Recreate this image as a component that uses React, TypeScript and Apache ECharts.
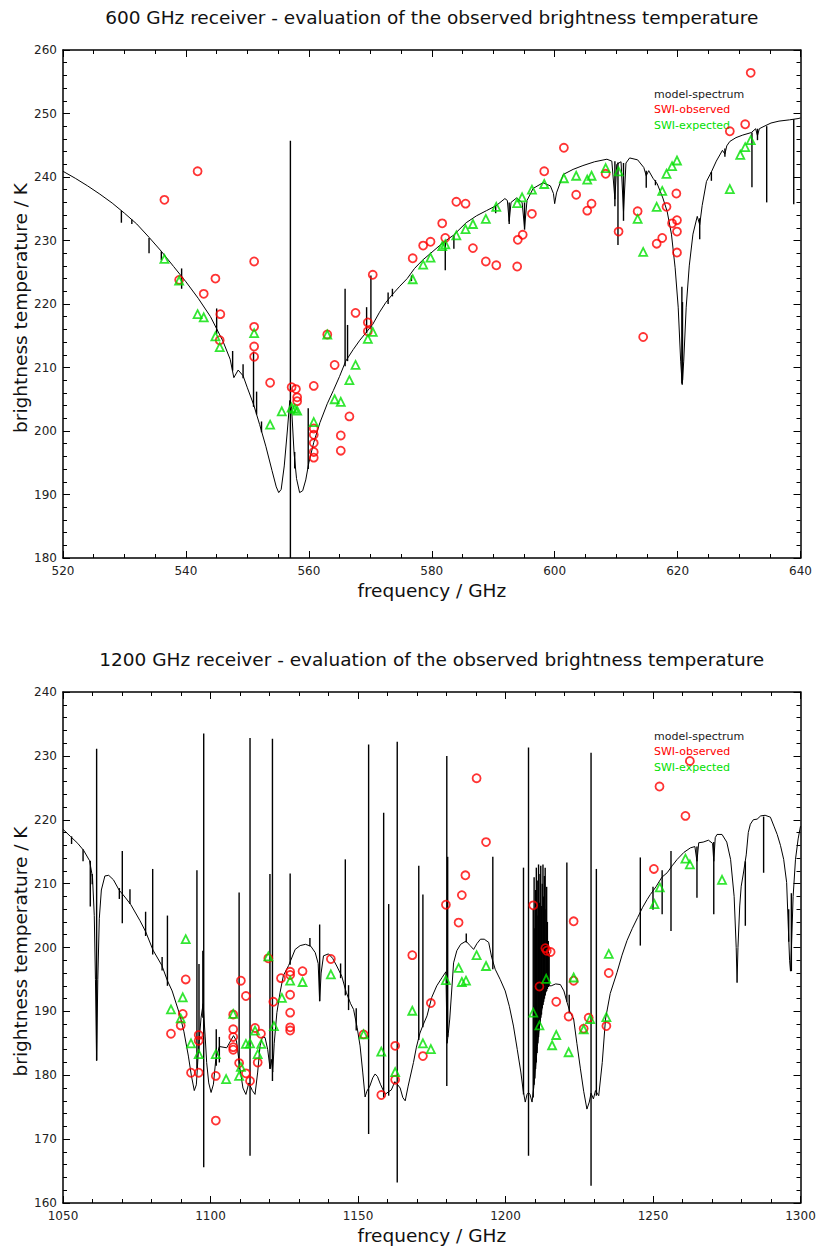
import { useEffect, useRef } from 'react';
import * as echarts from 'echarts';

const FONT = '"DejaVu Sans", sans-serif';
const RED = '#ff0000';
const GREEN = '#00e000';

// ---- 600 GHz receiver ----
const ticks600 = { min: 520, max: 640, interval: 20, yMin: 180, yMax: 260 };

// smooth part of the model spectrum [GHz, K]
const model600 = [
  [520, 240.9], [522, 239.8], [524, 238.6], [526, 237.3], [528, 235.9], [530, 234.3],
  [532, 232.6], [534, 230.5], [536, 228.3], [538, 225.9], [540, 223.5], [542, 220.9],
  [544, 218.0], [546, 214.2], [547.2, 211.3], [547.8, 208.4], [548.5, 209.6], [549.3, 208.7],
  [550, 206.8], [551, 204.2], [552, 201.0], [553, 197.6], [554, 193.8], [554.7, 191.2],
  [555.1, 190.3], [555.5, 190.8], [556, 194.5], [556.5, 200], [556.9, 204.8], [557.2, 203.5],
  [557.6, 196.5], [558, 192.5], [558.5, 190.3], [559, 190.6], [559.5, 192.3], [560, 195.0],
  [560.8, 198.2], [561.8, 201.3], [563, 204.3], [564, 206.4], [565, 208.6], [566, 211.0],
  [567.2, 212.8], [568.3, 214.3], [569.4, 215.6], [570.4, 216.8], [571.5, 218.7], [572.5, 220.2],
  [573.5, 221.4], [574.8, 222.8], [576, 224.0], [577.2, 225.6], [578.5, 226.9], [580.2, 228.3],
  [582, 229.8], [583.5, 230.8], [585.6, 232.8], [587.3, 233.9], [588.9, 234.7], [590.5, 235.5],
  [591.9, 236.6], [592.3, 236.3], [592.6, 233.0], [592.9, 236.0], [593.8, 236.7], [594.7, 236.0],
  [595.1, 232.0], [595.5, 236.3], [596.5, 238.2], [598.1, 239.1], [599.3, 238.6], [599.8, 237.4],
  [600.0, 235.8], [600.3, 237.5], [601.4, 240.4], [603, 241.2], [604.6, 241.8], [606.5, 242.4],
  [608.5, 242.8], [609.3, 242.5], [609.8, 236.5], [610.1, 242.0], [610.8, 242.4], [611.2, 234.5],
  [611.6, 242.2], [612.2, 243.0], [613.5, 242.7], [614.5, 241.5], [614.9, 240.2], [615.3, 241.0],
  [616.0, 239.8], [616.4, 239.3], [616.7, 238.9], [617.6, 236.7], [618.3, 234.6], [619.0, 231.0],
  [619.6, 225.7], [620.1, 219.5], [620.5, 211], [620.75, 207.3], [621.0, 211], [621.4, 219.5],
  [621.9, 226], [622.5, 231.0], [623.2, 233.8], [623.6, 232.5], [624.0, 235.5], [624.7, 239.3],
  [625.5, 240.8], [626.3, 242.5], [627.3, 244.2], [627.7, 243.6], [628.0, 244.9], [628.5, 245.6],
  [629.5, 246.2], [630.6, 246.6], [632.0, 247.0], [632.7, 247.6], [633.0, 246.5], [633.3, 247.6],
  [633.9, 247.9], [635.2, 248.5], [636.5, 248.8], [638.2, 249.0], [639.6, 249.2], [640, 249.3],
];

// narrow lines of the model spectrum [GHz, low K, high K]
const lines600 = [
  [529.5, 232.8, 234.7], [531.2, 232.6, 233.3], [534.0, 228.0, 230.4], [536.0, 226.9, 228.3],
  [539.3, 222.4, 225.6], [545.0, 215.3, 219.3], [547.6, 209.5, 212.6], [549.3, 208.3, 210.5],
  [551.0, 203.8, 212.5], [551.5, 202.6, 206.2], [552.3, 199.8, 201.5], [557.0, 180, 245.7],
  [557.7, 194.1, 196.7], [559.9, 194.0, 203.6], [565.9, 210.2, 222.4], [566.3, 211, 216.7],
  [569.4, 215.4, 219.5], [570.1, 216.1, 224.5], [572.9, 220.0, 221.8], [573.6, 221.2, 222.4],
  [576.7, 223.6, 224.5], [582.2, 225.3, 229.9], [583.6, 228.7, 230.8], [590.4, 234.3, 235.5],
  [592.6, 232.6, 236.0], [595.1, 231.7, 236.0], [609.8, 235.4, 242.5], [610.3, 229.3, 242.3],
  [611.2, 233.1, 242.2], [614.9, 238.3, 241.0], [616.4, 238.7, 239.5], [620.7, 207.5, 222.7],
  [620.8, 208, 220.3], [623.6, 230.2, 233.5], [625.5, 239.4, 240.8], [627.7, 243.2, 244.5],
  [632.1, 238.4, 247.0], [633.0, 245.8, 247.6], [634.5, 236.0, 248.0], [638.9, 235.7, 249.1],
];

const observed600 = [
  [536.5, 236.4], [541.9, 240.9], [538.9, 223.8], [542.9, 221.6], [544.8, 224.0], [545.6, 218.4],
  [545.5, 214.3], [551.1, 226.7], [551.1, 216.4], [551.1, 213.3], [551.1, 211.7], [553.7, 207.6],
  [557.2, 206.9], [557.9, 206.6], [558.1, 205.3], [558.1, 204.7], [560.8, 207.1], [560.8, 200.4],
  [560.8, 199.4], [560.8, 198.1], [560.8, 196.7], [560.8, 195.8], [563.0, 215.2], [564.2, 210.4],
  [565.2, 199.3], [565.2, 196.9], [566.6, 202.3], [567.6, 218.6], [569.6, 217.1], [569.6, 215.7],
  [570.4, 224.6], [576.9, 227.2], [578.6, 229.2], [579.8, 229.8], [581.7, 232.7], [582.2, 230.4],
  [584.0, 236.1], [585.5, 235.8], [586.7, 228.8], [588.8, 226.7], [590.5, 226.1], [593.9, 225.9],
  [594.0, 230.1], [594.8, 230.9], [596.3, 234.2], [598.3, 240.9], [601.5, 244.6], [603.5, 237.2],
  [605.3, 234.7], [606.0, 235.8], [608.3, 240.5], [610.4, 231.4], [613.5, 234.6], [614.4, 214.8],
  [616.6, 229.5], [617.5, 230.4], [618.2, 235.3], [619.1, 232.7], [619.8, 237.4], [619.9, 233.2],
  [619.9, 231.4], [619.9, 228.1], [628.5, 247.2], [631.0, 248.3], [631.9, 256.4],
];

const expected600 = [
  [536.5, 227.1], [538.9, 223.7], [541.9, 218.4], [542.9, 217.9], [544.8, 214.9], [545.5, 213.2],
  [551.1, 215.4], [553.7, 201.0], [555.6, 203.1], [557.2, 203.7], [557.7, 203.5], [558.1, 203.2],
  [560.8, 201.4], [563.0, 215.2], [564.2, 205.0], [565.2, 204.6], [566.6, 208.0], [567.6, 210.4],
  [569.6, 214.5], [570.4, 215.6], [576.9, 223.9], [578.6, 226.2], [579.8, 227.3], [581.7, 229.1],
  [582.2, 229.4], [584.0, 230.8], [585.5, 231.8], [586.7, 232.6], [588.8, 233.4], [590.5, 235.3],
  [593.9, 235.9], [594.7, 236.8], [596.3, 238.0], [598.3, 238.9], [601.5, 239.8], [603.5, 240.2],
  [605.3, 239.6], [606.0, 240.2], [608.3, 241.4], [610.4, 240.9], [613.5, 233.4], [614.4, 228.2],
  [616.6, 235.3], [617.5, 237.8], [618.2, 240.5], [619.1, 241.7], [619.9, 242.6], [628.5, 238.1],
  [630.2, 243.5], [631.0, 244.7], [631.9, 245.8],
];

// ---- 1200 GHz receiver ----
const ticks1200 = { min: 1050, max: 1300, interval: 50, yMin: 160, yMax: 240 };

const model1200 = [
  [1050, 218.5], [1052.5, 217.4], [1055, 216.3], [1057, 215.2], [1059, 213.6], [1060, 211.0],
  [1060.6, 205], [1061.0, 195], [1061.4, 182.3], [1061.8, 195], [1062.3, 204.5], [1063, 209.0],
  [1064.2, 211.2], [1065.5, 211.3], [1067.1, 210.6], [1069, 209.0], [1071, 207.9], [1073, 206.7],
  [1076.1, 204.2], [1078, 202.5], [1080.5, 199.6], [1083.5, 197.2], [1085.4, 194.8], [1087, 193.2],
  [1089.7, 189.3], [1091, 186.8], [1092.5, 183.0], [1093.5, 180.0], [1094.5, 177.6], [1095.2, 178.5],
  [1096, 184.5], [1096.8, 189], [1097.5, 191.2], [1098.2, 186], [1098.7, 182.0], [1099.4, 178.8],
  [1100.2, 177.3], [1101, 178.6], [1101.8, 182.5], [1103, 184.5], [1105.5, 184.3], [1107.8, 186.2],
  [1108.8, 185.4], [1110, 181], [1111, 178], [1112.0, 177.0], [1113, 178.8], [1114.2, 177.6],
  [1115.1, 177.0], [1116, 180.5], [1116.8, 184.6], [1117.6, 186.0], [1118.5, 185.9], [1119.4, 184.0],
  [1120.2, 181.0], [1120.6, 182.5], [1121.1, 180.5], [1121.6, 185], [1122.5, 189.8], [1123.6, 193],
  [1124.7, 195.6], [1126.5, 197.2], [1128.7, 199.7], [1130.4, 200.3], [1132.2, 200.5], [1134, 200.2],
  [1135.5, 199.2], [1136.5, 197.5], [1137.0, 191.6], [1137.5, 196], [1138.3, 198.7], [1140.0, 199.0],
  [1141.4, 198.3], [1142.8, 197.1], [1144.5, 195.5], [1146, 193], [1147.5, 191.2], [1148.5, 190.3],
  [1149.7, 187.5], [1150.7, 184.6], [1151.6, 180.5], [1152.4, 176.6], [1153, 177.5], [1154, 178.3],
  [1155, 179.6], [1155.8, 180.2], [1156.6, 179.8], [1157.6, 178.6], [1158.6, 177.6], [1159.2, 177.0],
  [1160.3, 177.4], [1161.3, 177.7], [1162.5, 179.0], [1163.3, 178.6], [1164.3, 178.0], [1165.2, 176.5],
  [1166.0, 176.0], [1167, 178.3], [1168.8, 182.0], [1169.8, 184.4], [1171, 186.6], [1172, 187.8],
  [1173.4, 189.3], [1175, 192.2], [1176.7, 194.0], [1178.5, 195.3], [1179.8, 196.2], [1180.2, 185],
  [1180.6, 186.5], [1181.1, 188.8], [1181.8, 193.5], [1182.4, 197.6], [1183.5, 199.5], [1184.8, 200.5],
  [1186.6, 201.0], [1188.0, 200.3], [1189.2, 199.7], [1190.3, 200.6], [1191.5, 201.3], [1192.8, 201.3],
  [1194.3, 200.8], [1195.3, 198.5], [1196.5, 196.6], [1198.2, 195.0], [1199.9, 193.2], [1201.3, 190.8],
  [1202.7, 187.7], [1204, 184], [1205.2, 180.5], [1206, 177.6], [1206.7, 175.8], [1207.3, 177.0],
  [1207.8, 177.3], [1208.3, 177.0], [1209.0, 175.8], [1209.6, 178.2], [1210.2, 181.4], [1210.8, 184.5],
  [1211.5, 187.6], [1212.2, 190], [1213, 192], [1213.8, 193.4], [1214.6, 194], [1215.5, 194.0],
  [1217, 194.3], [1218.6, 194.2], [1219.8, 193.2], [1220.8, 191.5], [1221.8, 190.0], [1223.1, 188.8],
  [1224.2, 185.0], [1225.4, 181.0], [1226.5, 177.5], [1227.6, 174.7], [1228.4, 175.8], [1229.0, 177.2],
  [1229.8, 176.3], [1230.5, 177.6], [1231.6, 176.8], [1232.8, 182], [1233.9, 188.8], [1235.5, 192.8],
  [1237.8, 196.1], [1239.5, 198.8], [1241.2, 201.1], [1243, 203], [1244.8, 204.7], [1246.5, 206.3],
  [1248, 207.5], [1249.1, 208.3], [1251, 209.5], [1253, 211], [1254.8, 211.7], [1256.5, 212.8],
  [1258.2, 213.8], [1260.5, 214.9], [1262.7, 215.6], [1264.2, 215.8], [1264.9, 213.5], [1265.5, 216.4],
  [1267, 216.5], [1268.8, 216.8], [1270.2, 216.3], [1270.6, 213.5], [1271.1, 217.2], [1271.7, 217.7],
  [1273.4, 217.7], [1275, 216.5], [1276.3, 213.8], [1277.5, 208], [1278.2, 200], [1278.5, 194.5],
  [1278.8, 200], [1279.4, 206.5], [1279.9, 209.6], [1280.6, 211.5], [1281.6, 214.5], [1282.3, 218],
  [1283.0, 219.3], [1284.0, 220.0], [1285.3, 220.1], [1286.5, 220.6], [1288.0, 220.7], [1289.8, 220.4],
  [1291, 219.0], [1292.1, 217.7], [1293.2, 216.0], [1294.3, 213.8], [1295.3, 210.2], [1295.8, 204],
  [1296.3, 198], [1296.6, 196.3], [1296.9, 199.5], [1297.5, 208], [1298.3, 213.8], [1299.2, 217],
  [1300, 219.0],
];

const lines1200 = [
  [1052.9, 216.2, 217.4], [1056.8, 213.5, 215.4], [1059.25, 206.4, 213.6], [1059.9, 209.9, 211.5],
  [1061.4, 182.3, 231.1], [1069.1, 207.6, 209.3], [1070.1, 203.8, 215.1], [1072.7, 206.8, 209.1],
  [1078.0, 201.8, 205.6], [1080.4, 198.9, 212.3], [1083.6, 196.4, 198.5], [1085.4, 194.0, 205.0],
  [1095.4, 181, 212.1], [1096.1, 183.5, 197.4], [1097.4, 189, 199.5], [1097.7, 165.6, 233.5],
  [1101.95, 181.5, 187.2], [1103.0, 182, 186], [1109.7, 180.9, 208.6], [1113.4, 167.4, 232.8],
  [1120.15, 181.0, 211.5], [1121.0, 179.1, 232.7], [1127.0, 197.3, 211.6], [1133.7, 200.2, 201.5],
  [1137.0, 191.6, 203.6], [1144.1, 195.2, 197.5], [1145.7, 192.5, 213.8], [1146.8, 190.2, 194.1],
  [1149.4, 187.0, 190.5], [1153.6, 170.8, 231.8], [1158.7, 176.5, 221.1], [1160.4, 176.8, 206.8],
  [1163.3, 163.2, 232.2], [1170.6, 185.5, 212.8], [1172.0, 187.5, 208.3], [1180.1, 178.3, 230.0],
  [1180.4, 186, 214.2], [1186.7, 200.8, 202.2], [1195.7, 196.6, 214.2], [1206.1, 177, 212.5],
  [1207.8, 167.4, 231.3],
  [1209.4, 176.5, 206], [1209.7, 178.5, 211], [1209.95, 179.5, 203], [1210.2, 181, 209],
  [1210.45, 182, 212.5], [1210.7, 183.5, 205], [1210.95, 185, 210.5], [1211.2, 186, 213],
  [1211.45, 187, 207], [1211.7, 188, 211.5], [1211.95, 189, 212.8], [1212.2, 189.5, 206.5],
  [1212.45, 190.5, 210], [1212.7, 191, 213], [1212.95, 191.5, 208], [1213.2, 192, 211.2],
  [1213.45, 192.5, 212.5], [1213.7, 193, 206], [1213.95, 193.2, 209.5], [1214.2, 193.5, 204],
  [1214.5, 193.8, 201], [1214.8, 194, 199],
  [1220.8, 191.5, 213.3], [1221.6, 189.7, 192.6], [1229.0, 162.7, 230.5], [1230.8, 176.8, 212.3],
  [1245.7, 200.3, 214.1], [1250.0, 205.9, 209.5], [1253.1, 205.2, 212.1], [1256.1, 202.6, 215.1],
  [1264.9, 207.8, 215.8], [1270.6, 205.2, 216.5], [1281.3, 203.4, 213.5], [1287.5, 211.7, 220.5],
  [1296.0, 200.9, 206.0], [1296.9, 196.3, 208.5],
];

const observed1200 = [
  [1086.6, 186.5], [1089.9, 187.8], [1090.6, 189.6], [1091.6, 195.0], [1093.4, 180.4], [1096.0, 186.3],
  [1096.0, 185.4], [1096.0, 180.4], [1101.8, 179.9], [1101.8, 172.9], [1107.7, 189.5], [1107.7, 187.2],
  [1107.7, 186.0], [1107.7, 184.4], [1107.7, 184.0], [1110.3, 194.8], [1109.7, 181.9], [1112.0, 192.4],
  [1112.0, 180.3], [1113.4, 179.1], [1115.1, 187.4], [1117.1, 186.5], [1116.0, 182.0], [1119.6, 198.3],
  [1121.3, 191.5], [1123.9, 195.2], [1127.0, 196.2], [1127.0, 195.7], [1127.0, 192.6], [1127.0, 189.8],
  [1127.0, 187.5], [1127.0, 187.0], [1131.2, 196.3], [1140.8, 198.2], [1151.9, 186.4], [1157.9, 176.9],
  [1162.6, 184.6], [1162.6, 179.3], [1168.4, 198.8], [1172.0, 183.0], [1174.7, 191.3], [1179.8, 206.7],
  [1184.1, 203.9], [1185.2, 208.2], [1186.4, 211.3], [1190.2, 226.5], [1193.4, 216.5], [1209.4, 206.6],
  [1211.5, 193.9], [1213.5, 199.9], [1214.0, 199.5], [1215.3, 199.3], [1217.2, 191.5], [1221.4, 189.2],
  [1223.1, 204.1], [1223.1, 194.8], [1226.5, 187.3], [1228.2, 189.0], [1234.2, 187.7], [1235.0, 196.0],
  [1250.3, 212.3], [1252.2, 225.2], [1261.0, 220.6], [1262.5, 229.2],
];

const expected1200 = [
  [1086.6, 190.3], [1089.9, 188.9], [1090.6, 192.2], [1091.6, 201.3], [1093.4, 185.0], [1096.0, 183.3],
  [1101.8, 183.3], [1105.3, 179.4], [1107.7, 189.6], [1109.7, 179.9], [1110.3, 181.3], [1112.0, 184.9],
  [1113.4, 185.0], [1115.1, 187.0], [1116.0, 183.3], [1117.2, 184.9], [1119.6, 198.6], [1121.5, 187.7],
  [1124.2, 192.1], [1127.0, 194.8], [1131.2, 194.6], [1140.8, 195.8], [1151.9, 186.4], [1157.9, 183.7],
  [1162.6, 180.5], [1168.4, 190.1], [1172.0, 185.0], [1174.7, 184.1], [1179.8, 194.9], [1184.1, 196.8],
  [1185.2, 194.6], [1186.6, 194.8], [1190.2, 198.8], [1193.4, 197.1], [1209.4, 189.8], [1211.5, 187.8],
  [1213.8, 195.1], [1215.8, 184.7], [1217.2, 186.3], [1221.4, 183.6], [1223.1, 195.3], [1226.5, 187.2],
  [1228.7, 188.8], [1234.2, 189.1], [1235.0, 199.0], [1250.5, 206.8], [1252.3, 209.4], [1261.0, 213.9],
  [1262.5, 213.0], [1273.4, 210.6],
];

const titles = [
  '600 GHz receiver - evaluation of the observed brightness temperature',
  '1200 GHz receiver - evaluation of the observed brightness temperature',
];
const legendLabels = ['model-spectrum', 'SWI-observed', 'SWI-expected'];

const GRID_LEFT = 63;
const GRID_WIDTH = 737.5;
const panels = [
  { top: 50, height: 508, ticks: ticks600, xMinor: 4, model: model600, lines: lines600, obs: observed600, exp: expected600 },
  { top: 692, height: 511, ticks: ticks1200, xMinor: 5, model: model1200, lines: lines1200, obs: observed1200, exp: expected1200 },
];

const tickStyle = { inside: true, length: 7, lineStyle: { color: '#000', width: 1 } };
const minorStyle = (n: number) => ({ show: true, splitNumber: n, length: 4, lineStyle: { color: '#000', width: 1 } });

const App = () => {
  const chartRef = useRef<HTMLDivElement>(null);

  useEffect(() => {
    if (!chartRef.current) return;
    const chart = echarts.init(chartRef.current, undefined, { renderer: 'svg' });

    const xAxis: any[] = [];
    const yAxis: any[] = [];
    const series: any[] = [];
    const graphic: any[] = [];

    panels.forEach((p, i) => {
      const t = p.ticks;
      const base = {
        gridIndex: i,
        type: 'value',
        axisLine: { show: true, onZero: false, lineStyle: { color: '#000', width: 1.5 } },
        axisTick: tickStyle,
        splitLine: { show: false },
      };
      xAxis.push({
        ...base, position: 'bottom', min: t.min, max: t.max, interval: t.interval,
        minorTick: minorStyle(p.xMinor),
        axisLabel: { color: '#222', fontFamily: FONT, fontSize: 12, margin: 7, formatter: (v: number) => String(v) },
      });
      xAxis.push({
        ...base, position: 'top', min: t.min, max: t.max, interval: t.interval,
        minorTick: minorStyle(p.xMinor), axisLabel: { show: false },
      });
      yAxis.push({
        ...base, position: 'left', min: t.yMin, max: t.yMax, interval: 10,
        minorTick: minorStyle(5),
        axisLabel: { color: '#222', fontFamily: FONT, fontSize: 12, margin: 6 },
      });
      yAxis.push({
        ...base, position: 'right', min: t.yMin, max: t.yMax, interval: 10,
        minorTick: minorStyle(5), axisLabel: { show: false },
      });

      const ax = { xAxisIndex: i * 2, yAxisIndex: i * 2 };
      series.push({
        ...ax, type: 'line', data: p.model, showSymbol: false, symbol: 'none',
        lineStyle: { color: '#000', width: 1 }, clip: true, z: 2,
      });
      series.push({
        ...ax, type: 'custom', data: p.lines, clip: true, z: 2,
        encode: { x: 0, y: [1, 2] },
        renderItem: (_params: any, api: any) => {
          const a = api.coord([api.value(0), api.value(1)]);
          const b = api.coord([api.value(0), api.value(2)]);
          return {
            type: 'line',
            shape: { x1: a[0], y1: a[1], x2: b[0], y2: b[1] },
            style: { stroke: '#000', lineWidth: 1.4 },
          };
        },
      });
      series.push({
        ...ax, type: 'scatter', data: p.obs, symbol: 'circle', symbolSize: 8, z: 3,
        itemStyle: { color: 'rgba(0,0,0,0)', borderColor: RED, borderWidth: 1.8 },
      });
      series.push({
        ...ax, type: 'scatter', data: p.exp, symbol: 'triangle', symbolSize: 8, z: 4,
        itemStyle: { color: 'rgba(0,0,0,0)', borderColor: GREEN, borderWidth: 1.8 },
      });

      const cx = GRID_LEFT + GRID_WIDTH / 2;
      graphic.push({
        type: 'text', x: cx, y: p.top - 33,
        style: { text: titles[i], fill: '#111', font: `18.5px ${FONT}`, textAlign: 'center', textVerticalAlign: 'middle' },
      });
      graphic.push({
        type: 'text', x: cx, y: p.top + p.height + 32,
        style: { text: 'frequency / GHz', fill: '#111', font: `18.5px ${FONT}`, textAlign: 'center', textVerticalAlign: 'middle' },
      });
      graphic.push({
        type: 'text', x: 20, y: p.top + p.height / 2 + 4, rotation: Math.PI / 2,
        style: { text: 'brightness temperature / K', fill: '#111', font: `18.5px ${FONT}`, textAlign: 'center', textVerticalAlign: 'middle' },
      });
      const legendColors = ['#222', RED, GREEN];
      legendLabels.forEach((label, k) => {
        graphic.push({
          type: 'text', x: 654, y: p.top + 44 + k * 15.8,
          style: { text: label, fill: legendColors[k], font: `11px ${FONT}`, textAlign: 'left', textVerticalAlign: 'middle' },
        });
      });
    });

    chart.setOption({
      animation: false,
      backgroundColor: '#fff',
      grid: panels.map((p) => ({ left: GRID_LEFT, top: p.top, width: GRID_WIDTH, height: p.height })),
      xAxis,
      yAxis,
      series,
      graphic,
    });

    return () => {
      chart.dispose();
    };
  }, []);

  return <div ref={chartRef} style={{ position: 'absolute', left: 0, top: 0, width: 826, height: 1253 }} />;
};

export default App;
